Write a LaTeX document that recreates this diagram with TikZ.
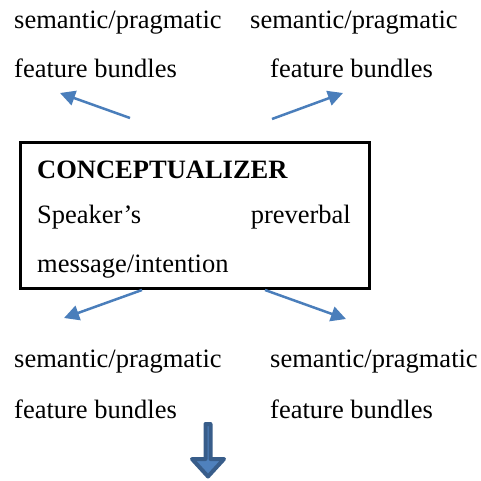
\documentclass[tikz,border=0pt]{standalone}
\usepackage{fontspec}
\setmainfont{Liberation Serif}
\usetikzlibrary{arrows.meta}
\definecolor{thinblue}{HTML}{4A7EBB}
\definecolor{blockfill}{HTML}{4F81BD}
\definecolor{blockline}{HTML}{385D8A}
\begin{document}
\begin{tikzpicture}[x=1pt,y=-1pt,
  txt/.style={inner sep=0pt,anchor=base west,font=\fontsize{26.5}{30}\selectfont},
  conn/.style={draw=thinblue,line width=2.5pt,-{Triangle[length=15pt,width=15pt]}},
  blockarrow/.style={fill=blockfill,draw=blockline,line width=4pt,line join=round}]
\useasboundingbox (0,0) rectangle (481,480);
% top texts
\node[txt] (tl1) at (14,28) {semantic/pragmatic};
\node[txt] (tl2) at (14,77) {feature bundles};
\node[txt] (tr1) at (250,28) {semantic/pragmatic};
\node[txt] (tr2) at (270,77) {feature bundles};
% box
\node[draw,line width=3pt,minimum width=349pt,minimum height=146pt,inner sep=0pt] (box) at (194.5,215) {};
\node[txt,font=\fontsize{26.5}{30}\selectfont\bfseries] (title) at (37,178) {CONCEPTUALIZER};
\node[txt] (sp) at (37,223) {Speaker’s};
\node[txt,anchor=base east] (pv) at (351,223) {preverbal};
\node[txt] (msg) at (37,272) {message/intention};
% bottom texts
\node[txt] (bl1) at (14,367) {semantic/pragmatic};
\node[txt] (bl2) at (14,418) {feature bundles};
\node[txt] (br1) at (270,367) {semantic/pragmatic};
\node[txt] (br2) at (270,418) {feature bundles};
% connector coordinates
\coordinate (a1s) at (130,118);
\coordinate (a1e) at (60,93);
\coordinate (a2s) at (272,119);
\coordinate (a2e) at (343,93);
\coordinate (a3s) at (142,290);
\coordinate (a3e) at (64,318);
\coordinate (a4s) at (265,290);
\coordinate (a4e) at (346,319);
\draw[conn] (a1s) -- (a1e);
\draw[conn] (a2s) -- (a2e);
\draw[conn] (a3s) -- (a3e);
\draw[conn] (a4s) -- (a4e);
% block arrow
\draw[blockarrow] (205.5,424) -- (210.5,424) -- (210.5,459) -- (224,459) -- (208,476.5) -- (192,459) -- (205.5,459) -- cycle;
\end{tikzpicture}
\end{document}
